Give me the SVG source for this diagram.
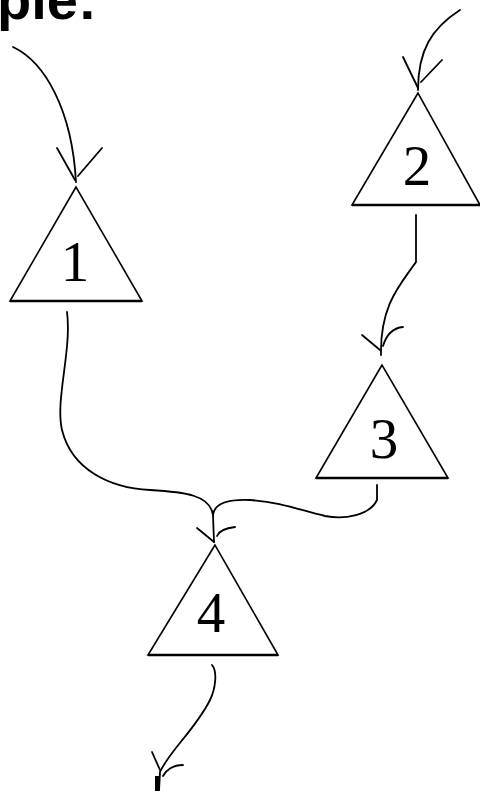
<svg xmlns="http://www.w3.org/2000/svg" width="480" height="791" viewBox="0 0 480 791">
<style>
.tri{fill:none;stroke:#000;stroke-width:1.6;stroke-linejoin:miter}
.base{stroke:#000;stroke-width:2.4}
.num{font-family:"Liberation Serif","Times New Roman",serif;font-size:57px;fill:#000;text-anchor:middle}
.c{fill:none;stroke:#000;stroke-width:1.8;stroke-linecap:round}
.title{font-family:"Liberation Sans",Arial,sans-serif;font-weight:bold;font-size:56px;fill:#000}
</style>
<rect width="480" height="791" fill="#fff"/>
<text class="title" x="-3" y="19">ple:</text>
<g id="node1">
<path class="tri" d="M76,187 L10,301 L142,301 Z"/>
<line class="base" x1="10" y1="301" x2="142" y2="301"/>
<text class="num" x="75" y="281">1</text>
</g>
<g id="node2">
<path class="tri" d="M418,93 L352,205 L480,205 Z"/>
<line class="base" x1="352" y1="205" x2="480" y2="205"/>
<text class="num" x="417" y="185">2</text>
</g>
<g id="node3">
<path class="tri" d="M382,365 L316,478 L448,478 Z"/>
<line class="base" x1="316" y1="478" x2="448" y2="478"/>
<text class="num" x="384" y="458">3</text>
</g>
<g id="node4">
<path class="tri" d="M215,545 L148,655 L278,655 Z"/>
<line class="base" x1="148" y1="655" x2="278" y2="655"/>
<text class="num" x="211" y="632">4</text>
</g>
<g id="connectors">
<path class="c" d="M13,47 C45,62 72,110 76,182"/>
<path class="c" d="M57,148 L75,180 M102,148 L78,176"/>
<path class="c" d="M460,10 C432,28 418,50 418,90"/>
<path class="c" d="M403,57 L418,88 M442,60 L421,82"/>
<path class="c" d="M416,215 L416,262 C400,285 380,305 381,355"/>
<path class="c" d="M362,335 L380,350 M403,327 C392,328 386,336 383,346"/>
<path class="c" d="M67,312 C72,350 55,400 62,430 C72,470 110,488 150,490 C185,492 210,495 213,515 L214,542"/>
<path class="c" d="M377,485 L377,500 C370,515 345,520 325,516 C300,510 280,502 250,500 C225,499 214,505 213,515"/>
<path class="c" d="M197,528 L214,542 M235,527 C226,528 219,531 217,536"/>
<path class="c" d="M212,665 C218,672 215,690 210,700 C195,730 170,750 160,772 L159,791"/>
<path class="c" d="M152,752 L160,770 M183,765 C173,765 166,770 163,776"/>
<path d="M157,776 L157,791" stroke="#000" stroke-width="4"/>
</g>
</svg>
